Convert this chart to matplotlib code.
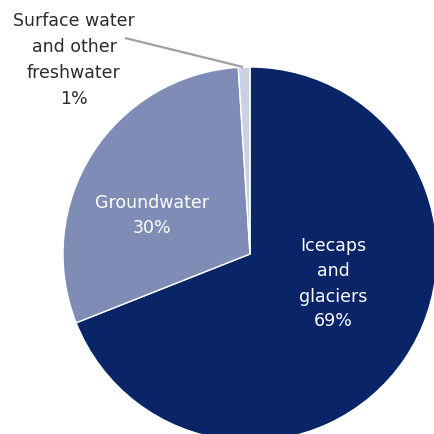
import matplotlib.pyplot as plt

labels = ["Icecaps\nand\nglaciers", "Groundwater", "Surface water\nand other\nfreshwater"]
shares = [69, 30, 1]
colors = ["#0a2468", "#7f8db6", "#c9d1e2"]

plt.rcParams["font.family"] = ["Liberation Sans Narrow", "DejaVu Sans"]

fig = plt.figure(figsize=(4.35, 4.35), dpi=100)
ax = fig.add_axes([0, 0, 1, 1])

cx, cy, r = 250, 180, 187
wedges, _ = ax.pie(shares, colors=colors, startangle=90, counterclock=False,
                   center=(cx, cy), radius=r, frame=True,
                   wedgeprops=dict(edgecolor="white", linewidth=1.0))
ax.set_xlim(0, 435)
ax.set_ylim(0, 435)
ax.set_aspect("equal")
ax.axis("off")

fs = 12.5
ax.text(333, 151, f"{labels[0]}\n{shares[0]}%", color="white", ha="center", va="center",
        fontsize=fs, linespacing=1.5)
ax.text(152, 219, f"{labels[1]}\n{shares[1]}%", color="white", ha="center", va="center",
        fontsize=fs, linespacing=1.5)
ax.text(74, 375, f"{labels[2]}\n{shares[2]}%", color="#2b2b2b", ha="center", va="center",
        fontsize=fs, linespacing=1.55)

# leader line to the thin slice
ax.plot([125, 243], [396, 367], color="#a0a0a0", lw=1.6, solid_capstyle="butt")

fig.savefig("out.png", dpi=100)
